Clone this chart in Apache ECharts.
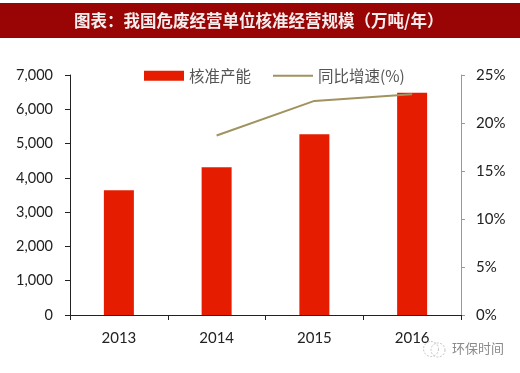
<!DOCTYPE html>
<html><head><meta charset="utf-8">
<style>html,body{margin:0;padding:0;background:#fff}#c{width:520px;height:373px}</style>
<script src="https://cdn.jsdelivr.net/npm/echarts@6/dist/echarts.min.js"></script>
</head><body><div id="c"></div>
<script>
const titleText = '图表\uFF1A我国危废经营单位核准经营规模\uFF08万吨/年\uFF09';
const years = ['2013','2014','2015','2016'];
const capacity = [3640,4310,5270,6480];
const growth = [null,18.7,22.3,23.0];
const barName = '核准产能';
const lineName = '同比增速(%)';
const watermark = '环保时间';
const cjk = '"Noto Sans CJK SC"';
const chart = echarts.init(document.getElementById('c'),null,{renderer:'canvas'});
chart.setOption({
  animation:false,
  backgroundColor:'#fff',
  graphic:[
    {type:'rect',z:0,shape:{x:0,y:3,width:520,height:35},style:{fill:'#990404'}},
    {type:'text',z:1,left:74,top:12,style:{text:titleText,fill:'#f6eeee',font:'bold 16.5px '+cjk}},
    {type:'circle',z:5,shape:{cx:431,cy:349,r:7.5},style:{fill:'none',stroke:'#c4c4c4',lineWidth:1,lineDash:[2,1.5]}},
    {type:'circle',z:5,shape:{cx:438,cy:350,r:7},style:{fill:'none',stroke:'#c4c4c4',lineWidth:1,lineDash:[2,1.5]}},
    {type:'text',z:5,left:452,top:342,style:{text:watermark,fill:'#8a8a8a',font:'13px '+cjk}}
  ],
  grid:{left:70,right:59,top:75,bottom:58},
  legend:{
    left:139,top:63,itemWidth:40,itemHeight:10,itemGap:21,
    textStyle:{color:'#555',fontFamily:cjk,fontSize:15.5},
    data:[{name:barName,icon:'rect'},{name:lineName,itemStyle:{opacity:0}}]
  },
  xAxis:{
    type:'category',data:years,
    axisLine:{lineStyle:{color:'#222',width:1}},
    axisTick:{show:true,alignWithLabel:false,length:5,lineStyle:{color:'#222'}},
    axisLabel:{color:'#222',fontFamily:'Lato',fontSize:15,margin:16}
  },
  yAxis:[
    {type:'value',min:0,max:7000,interval:1000,
     axisLine:{show:true,lineStyle:{color:'#222',width:1}},
     axisTick:{show:true,length:5,lineStyle:{color:'#222'}},
     splitLine:{show:false},
     axisLabel:{color:'#222',fontFamily:'Lato',fontSize:14.5,margin:17,
       formatter:v=>v.toLocaleString('en-US')}},
    {type:'value',min:0,max:25,interval:5,position:'right',
     axisLine:{show:true,lineStyle:{color:'#999',width:1}},
     axisTick:{show:true,length:4,lineStyle:{color:'#999'}},
     splitLine:{show:false},
     axisLabel:{color:'#222',fontFamily:'Lato',fontSize:15,margin:15,formatter:'{value}%'}}
  ],
  series:[
    {name:barName,type:'bar',data:capacity,barWidth:30,itemStyle:{color:'#e61c00'}},
    {name:lineName,type:'line',yAxisIndex:1,data:growth,symbol:'none',connectNulls:false,
     itemStyle:{color:'#a09360'},lineStyle:{color:'#a09360',width:2}}
  ]
});
</script></body></html>
